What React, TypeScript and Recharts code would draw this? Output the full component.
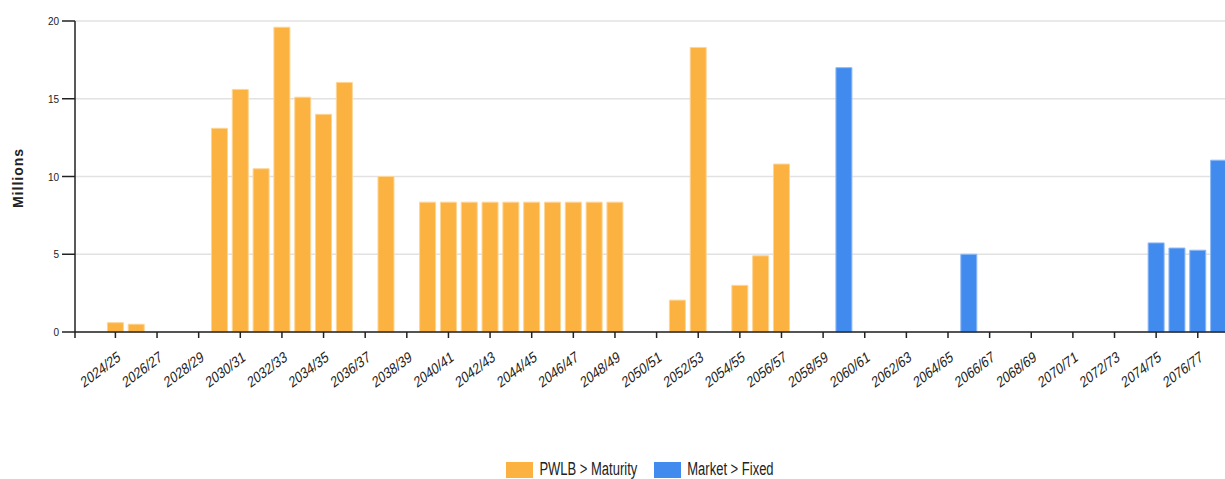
import { BarChart, Bar, XAxis, YAxis, CartesianGrid, Legend, Customized } from 'recharts';

const years = [
  '2024/25', '2025/26', '2026/27', '2027/28', '2028/29', '2029/30', '2030/31', '2031/32', '2032/33', '2033/34',
  '2034/35', '2035/36', '2036/37', '2037/38', '2038/39', '2039/40', '2040/41', '2041/42', '2042/43', '2043/44',
  '2044/45', '2045/46', '2046/47', '2047/48', '2048/49', '2049/50', '2050/51', '2051/52', '2052/53', '2053/54',
  '2054/55', '2055/56', '2056/57', '2057/58', '2058/59', '2059/60', '2060/61', '2061/62', '2062/63', '2063/64',
  '2064/65', '2065/66', '2066/67', '2067/68', '2068/69', '2069/70', '2070/71', '2071/72', '2072/73', '2073/74',
  '2074/75', '2075/76', '2076/77', '2077/78',
];

// PWLB > Maturity, millions
const pwlbMaturity = [
  0.6, 0.5, 0, 0, 0, 13.1, 15.6, 10.5, 19.6, 15.1,
  14.0, 16.05, 0, 10.0, 0, 8.35, 8.35, 8.35, 8.35, 8.35,
  8.35, 8.35, 8.35, 8.35, 8.35, 0, 0, 2.05, 18.3, 0,
  3.0, 4.9, 10.8, 0, 0, 0, 0, 0, 0, 0,
  0, 0, 0, 0, 0, 0, 0, 0, 0, 0,
  0, 0, 0, 0,
];

// Market > Fixed, millions
const marketFixed = [
  0, 0, 0, 0, 0, 0, 0, 0, 0, 0,
  0, 0, 0, 0, 0, 0, 0, 0, 0, 0,
  0, 0, 0, 0, 0, 0, 0, 0, 0, 0,
  0, 0, 0, 0, 0, 17.0, 0, 0, 0, 0,
  0, 5.0, 0, 0, 0, 0, 0, 0, 0, 0,
  5.73, 5.4, 5.26, 11.05,
];

const yTicks = [0, 5, 10, 15, 20];

const ORANGE = '#fbb240';
const BLUE = '#418bef';
const FONT = '"Liberation Sans", Arial, sans-serif';

const data = years.map((year, i) => ({
  year,
  pwlb: pwlbMaturity[i],
  market: marketFixed[i],
}));

// the source picture is stretched vertically, so the labels are too
function XTick({ x, y, payload }: any) {
  const px = x + 6;
  const py = y + 20;
  return (
    <text
      x={0}
      y={0}
      transform={`translate(${px}, ${py}) scale(1, 1.3) rotate(-30)`}
      textAnchor="end"
      fontSize={12}
      fontFamily={FONT}
      fill="#222"
    >
      {payload.value}
    </text>
  );
}

function YTick({ x, y, payload }: any) {
  return (
    <text x={x} y={y} dy={4} textAnchor="end" fontSize={10} fontFamily={FONT} fill="#222">
      {payload.value}
    </text>
  );
}

function LegendContent() {
  const items = [
    { label: 'PWLB > Maturity', color: ORANGE },
    { label: 'Market > Fixed', color: BLUE },
  ];
  return (
    <div style={{ display: 'flex', justifyContent: 'center', gap: 17 }}>
      {items.map((it) => (
        <div key={it.label} style={{ display: 'flex', alignItems: 'center' }}>
          <span style={{ width: 27, height: 16, background: it.color, display: 'inline-block', marginRight: 6 }} />
          <span
            style={{
              fontFamily: FONT,
              fontSize: 13,
              color: '#222',
              lineHeight: '13px',
              display: 'inline-block',
              transform: 'translateY(-2px) scaleY(1.4)',
            }}
          >
            {it.label}
          </span>
        </div>
      ))}
    </div>
  );
}

function OuterTick() {
  return <line x1={75} y1={332} x2={75} y2={338} stroke="#222" strokeWidth={1.5} />;
}

export default function App() {
  return (
    <div style={{ position: 'absolute', left: 0, top: 0, width: 1225, height: 479, overflow: 'hidden', background: '#fff' }}>
      <BarChart
        width={1280}
        height={479}
        data={data}
        margin={{ top: 21, right: 21, bottom: 0, left: 0 }}
        barCategoryGap="11.5%"
      >
        <CartesianGrid vertical={false} stroke="#e2e2e2" strokeWidth={1.5} />
        <XAxis
          dataKey="year"
          interval={1}
          height={147}
          padding={{ left: 30, right: 30 }}
          tickSize={6}
          tick={<XTick />}
          axisLine={{ stroke: '#222', strokeWidth: 1.5 }}
          tickLine={{ stroke: '#222', strokeWidth: 1.5 }}
        />
        <YAxis
          width={75}
          domain={[0, 20]}
          ticks={yTicks}
          tickSize={13}
          tickMargin={3}
          tick={<YTick />}
          axisLine={{ stroke: '#222', strokeWidth: 1.5 }}
          tickLine={{ stroke: '#222', strokeWidth: 1.5 }}
          label={{
            content: () => (
              <text
                x={23}
                y={178}
                transform="rotate(-90, 23, 178)"
                textAnchor="middle"
                fontSize={14}
                fontWeight="bold"
                letterSpacing={1}
                fontFamily={FONT}
                fill="#222"
              >
                Millions
              </text>
            ),
          }}
        />
        <Bar dataKey="pwlb" name="PWLB > Maturity" stackId="a" fill={ORANGE} stroke="#fdd595" strokeWidth={1} isAnimationActive={false} />
        <Bar dataKey="market" name="Market > Fixed" stackId="a" fill={BLUE} stroke="#8fbaf5" strokeWidth={1} isAnimationActive={false} />
        <Legend
          layout="horizontal"
          verticalAlign="middle"
          align="center"
          content={<LegendContent />}
          wrapperStyle={{ top: 462, left: 0, width: 1280 }}
        />
        <Customized component={<OuterTick />} />
      </BarChart>
    </div>
  );
}
